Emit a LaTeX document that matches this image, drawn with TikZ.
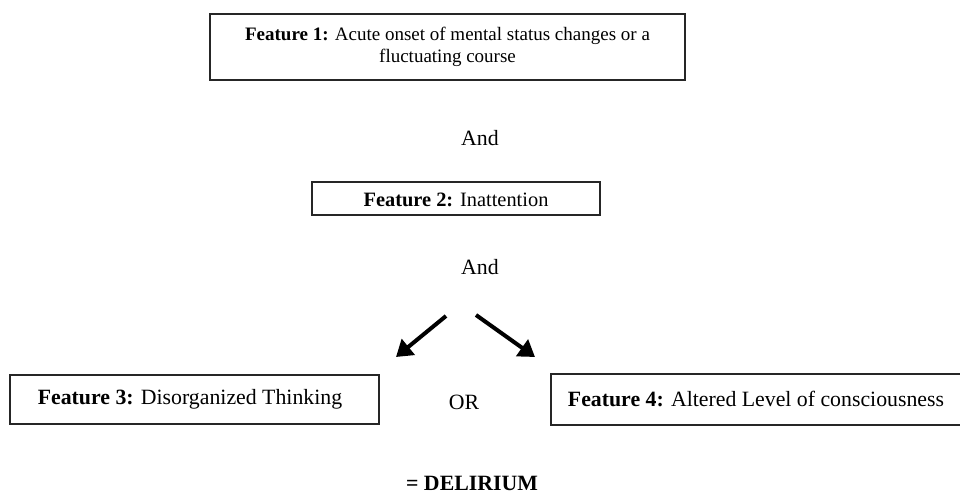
\documentclass[tikz,border=0pt]{standalone}
\usepackage{fontspec}
\setmainfont{Liberation Serif}
\usetikzlibrary{arrows.meta}
\begin{document}
\begin{tikzpicture}[x=1pt,y=-1pt,
  box/.style={draw=black!85,line width=1.3pt,inner sep=0pt},
  txt/.style={font=\fontsize{21.8}{24}\selectfont,align=center,inner sep=0pt},
  txtA/.style={font=\fontsize{19}{22}\selectfont,align=center,inner sep=0pt},
  txtB/.style={font=\fontsize{20.4}{24}\selectfont,align=center,inner sep=0pt},
  arr/.style={line width=4pt,-{Triangle[length=16pt,width=20pt]}}]
\useasboundingbox (0,0) rectangle (960,497);
% boxes
\draw[box] (210,14) rectangle (685,80);
\node[txtA] (f1) at (447.5,47) {\textbf{Feature 1:} Acute onset of mental status changes or a\\fluctuating course};
\node[txt] (and1) at (480,138) {And};
\draw[box] (312,182) rectangle (600,215);
\node[txtB] (f2) at (456,200) {\textbf{Feature 2:} Inattention};
\node[txt] (and2) at (480,267) {And};
\coordinate (tl) at (446,316);
\coordinate (tr) at (476,315);
\coordinate (hl) at (396,357);
\coordinate (hr) at (535,357);
\draw[arr] (tl) -- (hl);
\draw[arr] (tr) -- (hr);
\draw[box] (10,375) rectangle (379,424);
\node[txt] (f3) at (190,399) {\textbf{Feature 3:} Disorganized Thinking};
\node[txt] (or) at (464,402) {OR};
\draw[box] (551,374) rectangle (962,425);
\node[txt] (f4) at (756,399) {\textbf{Feature 4:} Altered Level of consciousness};
\node[txt,anchor=base] (del) at (472,490) {\textbf{= DELIRIUM}};
\end{tikzpicture}
\end{document}
